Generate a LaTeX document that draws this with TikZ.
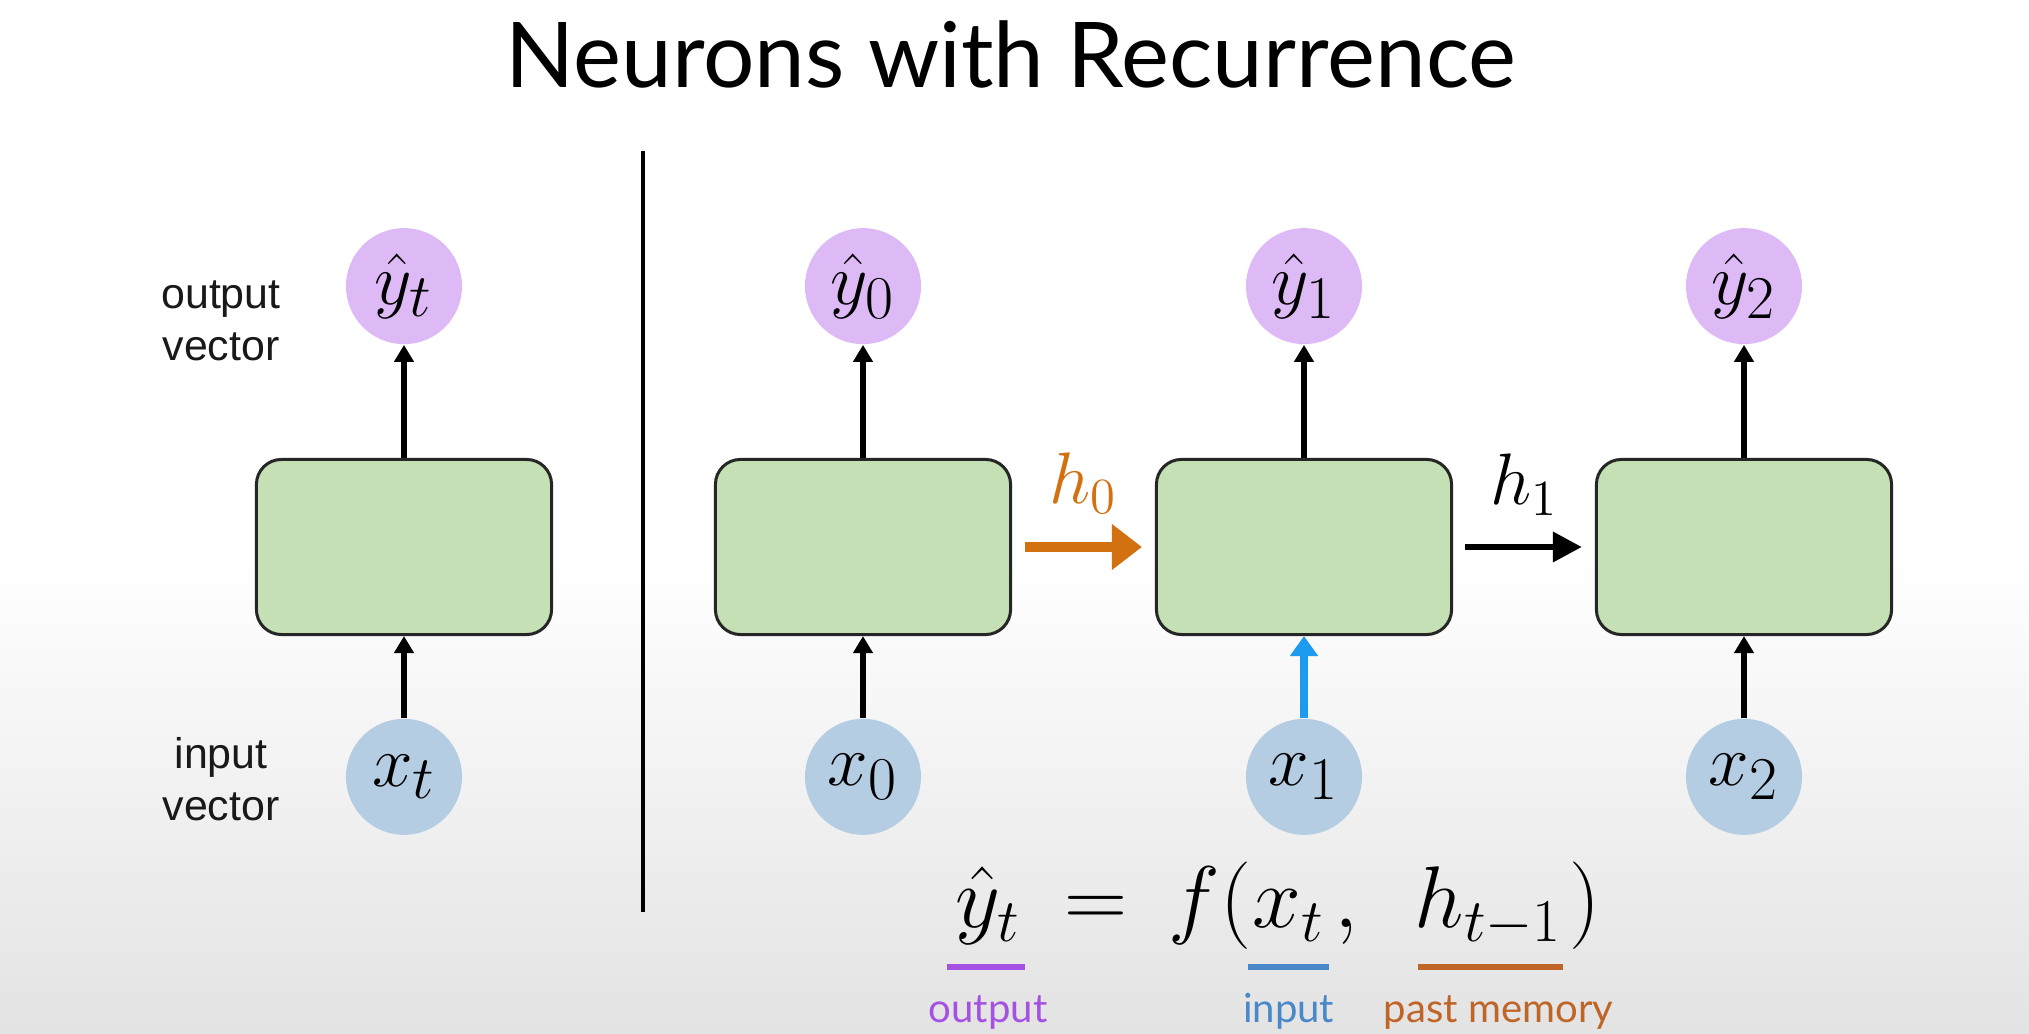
\documentclass[tikz,border=0pt]{standalone}
\usepackage[no-math]{fontspec}
\setmainfont{Liberation Sans}
\newfontfamily\gillfont{Lato}
\usepackage{tikz}
\usetikzlibrary{positioning, arrows.meta, calc}

\DeclareMathSizes{25}{25}{19}{15}
\DeclareMathSizes{22}{22}{16}{12}

\definecolor{cellgreen}{HTML}{C5E0B4}
\definecolor{outpurple}{HTML}{DDBAF5}
\definecolor{inblue}{HTML}{B5CDE3}
\definecolor{statorange}{HTML}{D3700F}
\definecolor{arrowblue}{HTML}{1C9BF0}
\definecolor{eqpurple}{HTML}{A552E2}
\definecolor{eqblue}{HTML}{4A88C9}
\definecolor{eqorange}{HTML}{BF6528}

\begin{document}
\begin{tikzpicture}[
            x=0.01cm, y=-0.01cm,
            cell/.style={rectangle, draw=black!85, line width=0.03cm, fill=cellgreen, minimum width=2.95cm, minimum height=1.75cm, rounded corners=0.25cm},
            outnode/.style={circle, fill=outpurple, minimum size=1.16cm, inner sep=0pt, font=\fontsize{22}{26}\selectfont},
            innode/.style={circle, fill=inblue, minimum size=1.16cm, inner sep=0pt, font=\fontsize{22}{26}\selectfont},
            vec/.style={-{Triangle[length=0.17cm, width=0.19cm]}, line width=0.055cm},
            hstate/.style={-{Triangle[length=0.3cm, width=0.44cm]}, line width=0.1cm, color=statorange, shorten <=0.13cm, shorten >=0.13cm},
            hnext/.style={-{Triangle[length=0.29cm, width=0.29cm]}, line width=0.065cm, shorten <=0.12cm, shorten >=0.13cm},
            hlbl/.style={inner sep=0pt, font=\fontsize{21}{25}\selectfont},
            sidelbl/.style={align=center, text=black!90, font=\fontsize{12.2}{14.8}\selectfont},
            titletext/.style={font=\gillfont\fontsize{25.8}{30}\selectfont},
            eqpart/.style={inner sep=0pt, anchor=base west, font=\fontsize{25}{30}\selectfont},
            uline/.style={line width=0.06cm},
            eqlbl/.style={inner sep=0pt, anchor=base, font=\gillfont\fontsize{11.4}{14}\selectfont}
        ]
            \useasboundingbox (0,0) rectangle (2029,1034);
            \fill[white] (0,0) rectangle (2029,1034);
            \fill[top color=white, bottom color=black!11] (0,560) rectangle (2029,1034);

            \node[titletext, anchor=base] (title) at (1011,88) {Neurons with Recurrence};

            % single neuron
            \node[cell] (cellL) at (404,547) {};
            \node[outnode, above=1.13cm of cellL] (yL) {$\hat{y}_t$};
            \node[innode, below=0.82cm of cellL] (xL) {$x_t$};
            \node[sidelbl] (outlbl) at (221,321) {output\\vector};
            \node[sidelbl] (inlbl) at (221,779) {input\\vector};

            \draw[vec] (xL) -- (cellL);
            \draw[vec] (cellL) -- (yL);

            % divider
            \coordinate (divtop) at (643,151);
            \coordinate (divbot) at (643,912);
            \draw[line width=0.04cm] (divtop) -- (divbot);

            % unrolled
            \node[cell] (cell0) at (863,547) {};
            \node[cell] (cell1) at (1304,547) {};
            \node[cell] (cell2) at (1744,547) {};
            \node[outnode, above=1.13cm of cell0] (y0) {$\hat{y}_0$};
            \node[outnode, above=1.13cm of cell1] (y1) {$\hat{y}_1$};
            \node[outnode, above=1.13cm of cell2] (y2) {$\hat{y}_2$};
            \node[innode, below=0.82cm of cell0] (x0) {$x_0$};
            \node[innode, below=0.82cm of cell1] (x1) {$x_1$};
            \node[innode, below=0.82cm of cell2] (x2) {$x_2$};

            \draw[vec] (x0) -- (cell0);
            \draw[-{Triangle[length=0.2cm, width=0.27cm]}, line width=0.08cm, color=arrowblue] (x1) -- (cell1);
            \draw[vec] (x2) -- (cell2);
            \draw[vec] (cell0) -- (y0);
            \draw[vec] (cell1) -- (y1);
            \draw[vec] (cell2) -- (y2);

            \draw[hstate] (cell0) -- node[hlbl, above=0.28cm, text=statorange] (h0) {$h_0$} (cell1);
            \draw[hnext] (cell1) -- node[hlbl, above=0.28cm] (h1) {$h_1$} (cell2);

            % equation
            \node[eqpart] (eqy) at (955,928) {$\hat{y}_t$};
            \node[eqpart] (eqeq) at (1064,928) {$=$};
            \node[eqpart] (eqf) at (1168,928) {$f($};
            \node[eqpart, base right=0cm of eqf] (eqx) {$x_t$};
            \node[eqpart, base right=0.08cm of eqx] (eqc) {$,$};
            \node[eqpart] (eqh) at (1414,928) {$h_{t-1}$};
            \node[eqpart, base right=0.06cm of eqh] (eqp) {$)$};

            \draw[uline, eqpurple] ([xshift=-0.08cm, yshift=-0.39cm]eqy.base west) -- ([xshift=0.04cm, yshift=-0.39cm]eqy.base east);
            \draw[uline, eqblue] ([xshift=-0.04cm, yshift=-0.39cm]eqx.base west) -- ([xshift=0.04cm, yshift=-0.39cm]eqx.base east);
            \draw[uline, eqorange] ([xshift=0.04cm, yshift=-0.39cm]eqh.base west) -- ([yshift=-0.39cm]eqh.base east);

            \node[eqlbl, text=eqpurple] (lblout) at ([yshift=-0.94cm]eqy.base) {output};
            \node[eqlbl, text=eqblue] (lblin) at ([yshift=-0.94cm]eqx.base) {input};
            \node[eqlbl, text=eqorange] (lblmem) at ([xshift=0.1cm, yshift=-0.94cm]eqh.base) {past memory};
        \end{tikzpicture}
\end{document}
